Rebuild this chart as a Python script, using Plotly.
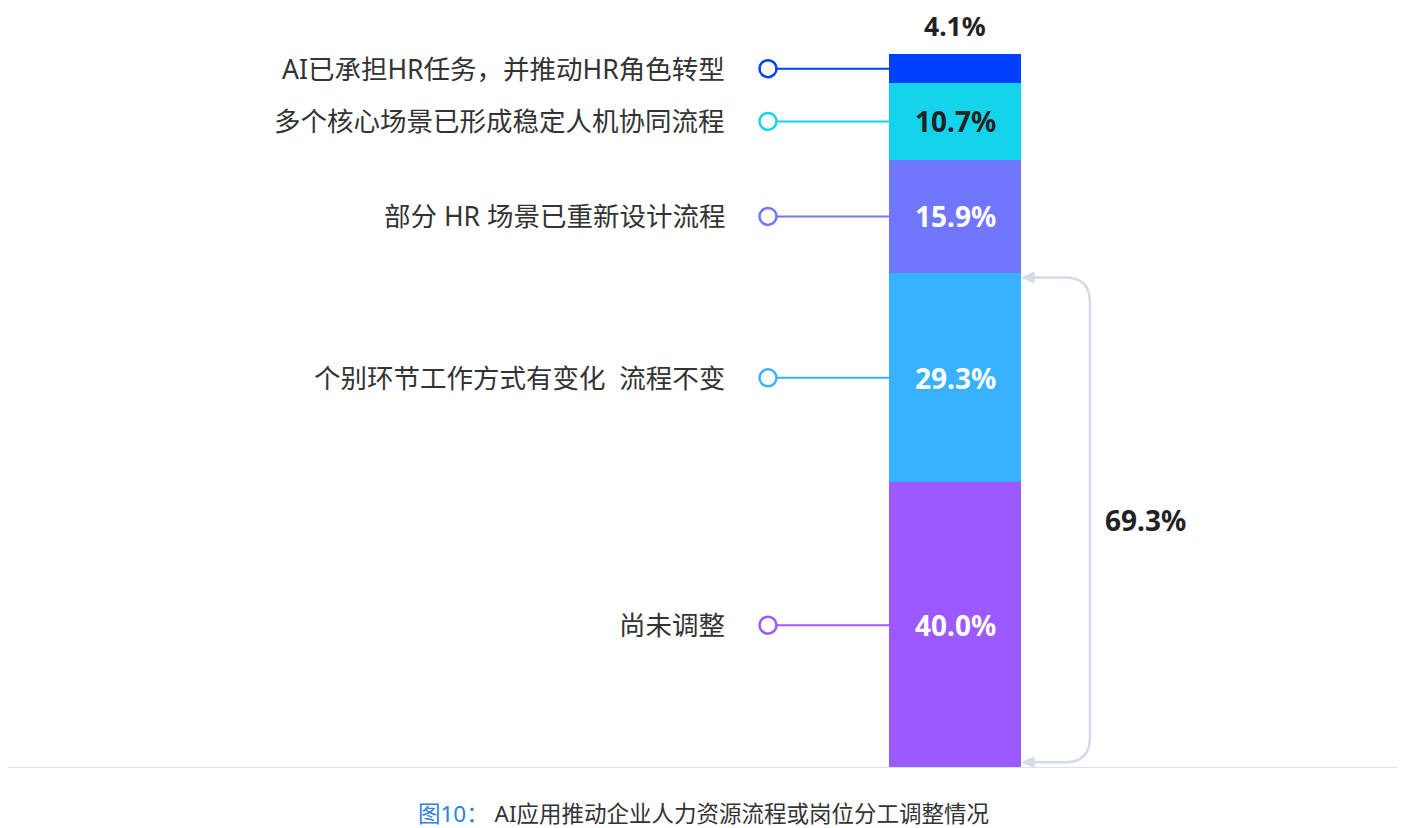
import plotly.graph_objects as go

# Data (bottom to top)
categories = [
    "尚未调整",
    "个别环节工作方式有变化\u00a0\u00a0流程不变",
    "部分 HR 场景已重新设计流程",
    "多个核心场景已形成稳定人机协同流程",
    "AI已承担HR任务，并推动HR角色转型",
]
values = [40.0, 29.3, 15.9, 10.7, 4.1]
colors = ["#9b59ff", "#38b2ff", "#7176ff", "#13d4ea", "#0041ff"]
text_colors = ["#ffffff", "#ffffff", "#ffffff", "#222222", "#222222"]
bracket_value = round(values[0] + values[1], 1)
caption_prefix = "图10："
caption_text = "AI应用推动企业人力资源流程或岗位分工调整情况"

FONT = "Noto Sans, Noto Sans CJK SC, sans-serif"
PAGE_OFF = 8  # default body margin of the html page
BAR_X = 955
BAR_W = 132
DOT_X = 768
LABEL_X = 727
BR_X = 1090

fig = go.Figure()

cum = 0
centers = []
for cat, v, c in zip(categories, values, colors):
    fig.add_trace(go.Bar(x=[BAR_X], y=[v], width=[BAR_W], marker=dict(color=c, line=dict(width=0)),
                         name=cat, showlegend=False, hoverinfo="skip"))
    centers.append(cum + v / 2)
    cum += v

annotations = []
for i, (cat, v, c, tc, cy) in enumerate(zip(categories, values, colors, text_colors, centers)):
    fig.add_trace(go.Scatter(x=[DOT_X, BAR_X - BAR_W / 2], y=[cy, cy], mode="lines",
                             line=dict(color=c, width=2), showlegend=False, hoverinfo="skip"))
    fig.add_trace(go.Scatter(x=[DOT_X], y=[cy], mode="markers",
                             marker=dict(size=17, color="white", line=dict(color=c, width=2.5)),
                             showlegend=False, hoverinfo="skip"))
    annotations.append(dict(x=LABEL_X, y=cy, xref="x", yref="y", text=cat, showarrow=False,
                            xanchor="right", yanchor="middle",
                            font=dict(family=FONT, size=26.5, color="#333333")))
    if i == len(values) - 1:
        annotations.append(dict(x=BAR_X, y=100, xref="x", yref="y", text=f"<b>{v:.1f}%</b>",
                                showarrow=False, xanchor="center", yanchor="middle", yshift=28,
                                borderpad=0,
                                font=dict(family=FONT, size=26.5, color="#222222")))
    else:
        annotations.append(dict(x=BAR_X, y=cy, xref="x", yref="y", text=f"<b>{v:.1f}%</b>",
                                showarrow=False, xanchor="center", yanchor="middle",
                                font=dict(family=FONT, size=28, color=tc)))

# Bracket
yt = bracket_value - 0.6
yb = 0.8
r_y = 3.5
r_x = 25
x0 = BAR_X + BAR_W / 2 + 1
bcol = "#d3daea"
path = (f"M {x0+10},{yt} L {BR_X - r_x},{yt} Q {BR_X},{yt} {BR_X},{yt - r_y} "
        f"L {BR_X},{yb + r_y} Q {BR_X},{yb} {BR_X - r_x},{yb} L {x0+10},{yb}")
shapes = [
    dict(type="path", path=path, xref="x", yref="y", line=dict(color=bcol, width=2.5)),
    dict(type="path", path=f"M {x0},{yt} L {x0+12},{yt+0.75} L {x0+12},{yt-0.75} Z",
         xref="x", yref="y", fillcolor=bcol, line=dict(color=bcol, width=1)),
    dict(type="path", path=f"M {x0},{yb} L {x0+12},{yb+0.75} L {x0+12},{yb-0.75} Z",
         xref="x", yref="y", fillcolor=bcol, line=dict(color=bcol, width=1)),
    dict(type="line", x0=0, x1=1, xref="paper", y0=0, y1=0, yref="y",
         line=dict(color="#dde1ea", width=2)),
]
annotations.append(dict(x=1145, y=(yt + yb) / 2, xref="x", yref="y", text=f"<b>{bracket_value:.1f}%</b>",
                        showarrow=False, xanchor="center", yanchor="middle",
                        font=dict(family=FONT, size=28, color="#222222")))

# Caption
annotations.append(dict(x=703, y=0, xref="x", yref="paper", yshift=-45, showarrow=False,
                        xanchor="center", yanchor="middle", borderpad=0,
                        text=f"<span style='color:#2f7fe6'>{caption_prefix}</span> {caption_text}",
                        font=dict(family=FONT, size=22.5, color="#333333")))

W, H = 1406 - PAGE_OFF, 828 - PAGE_OFF
fig.update_layout(
    width=W, height=H,
    margin=dict(l=0, r=0, t=54 - PAGE_OFF, b=60),
    plot_bgcolor="white", paper_bgcolor="white",
    barmode="stack", bargap=0,
    xaxis=dict(range=[PAGE_OFF, 1406], visible=False, fixedrange=True),
    yaxis=dict(range=[0, 100], visible=False, fixedrange=True),
    shapes=shapes,
    annotations=annotations,
)

fig.write_html("out.html")
